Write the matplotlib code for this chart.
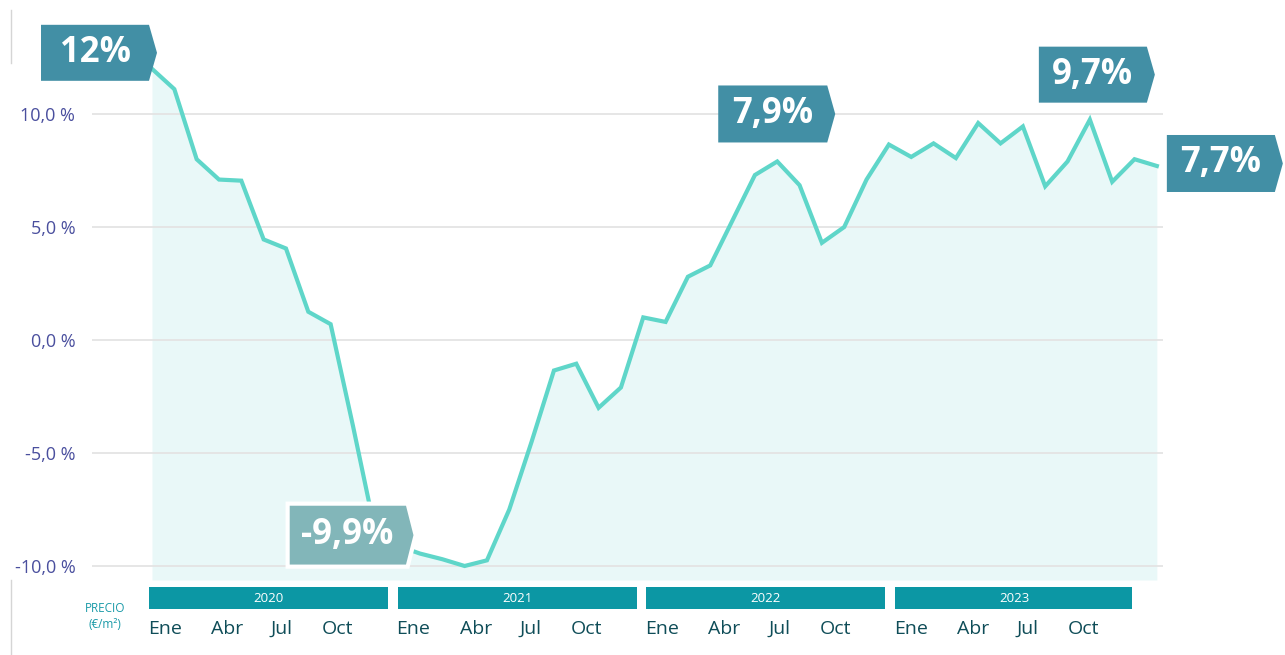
import matplotlib.pyplot as plt
import matplotlib.transforms as mtransforms
from matplotlib.patches import Polygon

plt.rcParams['font.family'] = ['Open Sans', 'DejaVu Sans']

# interannual price variation, Jan 2020 - Oct 2023 (%)
values = [12.0, 11.1, 8.0, 7.1, 7.05, 4.45, 4.05, 1.25, 0.7, -3.8,
          -8.5, -9.1, -9.45, -9.7, -10.0, -9.75, -7.5, -4.5, -1.35, -1.05,
          -3.0, -2.1, 1.0, 0.8, 2.8, 3.3, 5.3, 7.3, 7.9, 6.85,
          4.3, 5.0, 7.1, 8.65, 8.1, 8.7, 8.05, 9.6, 8.7, 9.45,
          6.8, 7.9, 9.75, 7.0, 8.0, 7.7]
years = ['2020', '2021', '2022', '2023']
months = ['Ene', 'Abr', 'Jul', 'Oct']
yticks = [-10, -5, 0, 5, 10]

# callouts: index of point, text, box offsets in px (left, right, top, bottom), style
callouts = [
    (0, '12%', -111, -3, 44, -12, 'dark'),
    (11, '-9,9%', -110, 10, 42, -21, 'light'),
    (28, '7,9%', -59, 50, 76, 19, 'dark'),
    (42, '9,7%', -51, 57, 73, 17, 'dark'),
    (45, '7,7%', 10, 118, 31, -26, 'dark'),
]

line_c = '#5fd6c9'
fill_c = '#e9f8f8'
box_c = {'dark': '#428fa5', 'light': '#82b6b9'}

fig = plt.figure(figsize=(12.85, 6.55), dpi=100)
fig.patch.set_facecolor('white')

ax = fig.add_axes([92 / 1285, 1 - 580 / 655, (1163 - 92) / 1285, 560 / 655])
ax.set_facecolor('none')
x = list(range(len(values)))
ybot = -10.62
ax.set_xlim((92 - 152) / 22.33, (1163 - 152) / 22.33)
ax.set_ylim(ybot, 14.16)
ax.fill_between(x, values, ybot, color=fill_c, lw=0, zorder=1)
ax.plot(x, values, color=line_c, lw=3, solid_joinstyle='miter', zorder=3)

ax.set_yticks(yticks)
ax.set_yticklabels(['{:.1f} %'.format(v).replace('.', ',') for v in yticks],
                   fontsize=13, color='#4a4f9e')
ax.tick_params(axis='y', length=0, pad=12)
ax.set_xticks([])
ax.grid(axis='y', color='#e4e4e4', lw=1.3, zorder=0)
for s in ax.spines.values():
    s.set_visible(False)

# pentagon callouts anchored to data points
for i, txt, l, r, t, b, style in callouts:
    trans = fig.dpi_scale_trans + mtransforms.ScaledTranslation(i, values[i], ax.transData)
    mid = (t + b) / 2
    pts = [(l, t), (r, t), (r + 8, mid), (r, b), (l, b)]
    pts = [(px / 100, py / 100) for px, py in pts]
    white = style == 'light'
    poly = Polygon(pts, closed=True, transform=trans, facecolor=box_c[style],
                   edgecolor='white' if white else 'none', lw=3 if white else 0,
                   zorder=5, clip_on=False)
    ax.add_patch(poly)
    ax.text((l + r) / 200, mid / 100, txt, transform=trans, ha='center', va='center',
            color='white', fontsize=25, fontweight='bold', zorder=6, clip_on=False)

# year strip + month labels
st = fig.add_axes([149 / 1285, 10 / 655, 983 / 1285, 65 / 655])
st.set_xlim(0.233, 47.68)
st.set_ylim(0, 1)
st.axis('off')
for k, yr in enumerate(years):
    c = 12 * k + 6
    st.bar(c, 0.338, bottom=0.554, width=11.53, color='#0c97a4', lw=0)
    st.text(c, 0.71, yr, ha='center', va='center', color='white', fontsize=9.5)
    for j, m in enumerate(months):
        st.text(12 * k + [1.0, 4.0, 6.65, 9.35][j], 0.25, m, ha='center', va='center',
                color='#0f4d58', fontsize=14)

fig.text(105 / 1285, 1 - 608 / 655, 'PRECIO', ha='center', va='center',
         color='#1a9aa8', fontsize=8.5)
fig.text(105 / 1285, 1 - 625 / 655, '(€/m²)', ha='center', va='center',
         color='#1a9aa8', fontsize=8.5)

# thin frame remnants on the left
fig.add_artist(plt.Line2D([11 / 1285] * 2, [1 - 10 / 655, 1 - 63 / 655], color='#d5d5d5', lw=1))
fig.add_artist(plt.Line2D([11 / 1285] * 2, [0, 1 - 580 / 655], color='#d5d5d5', lw=1))

fig.savefig('out.png', dpi=100)
